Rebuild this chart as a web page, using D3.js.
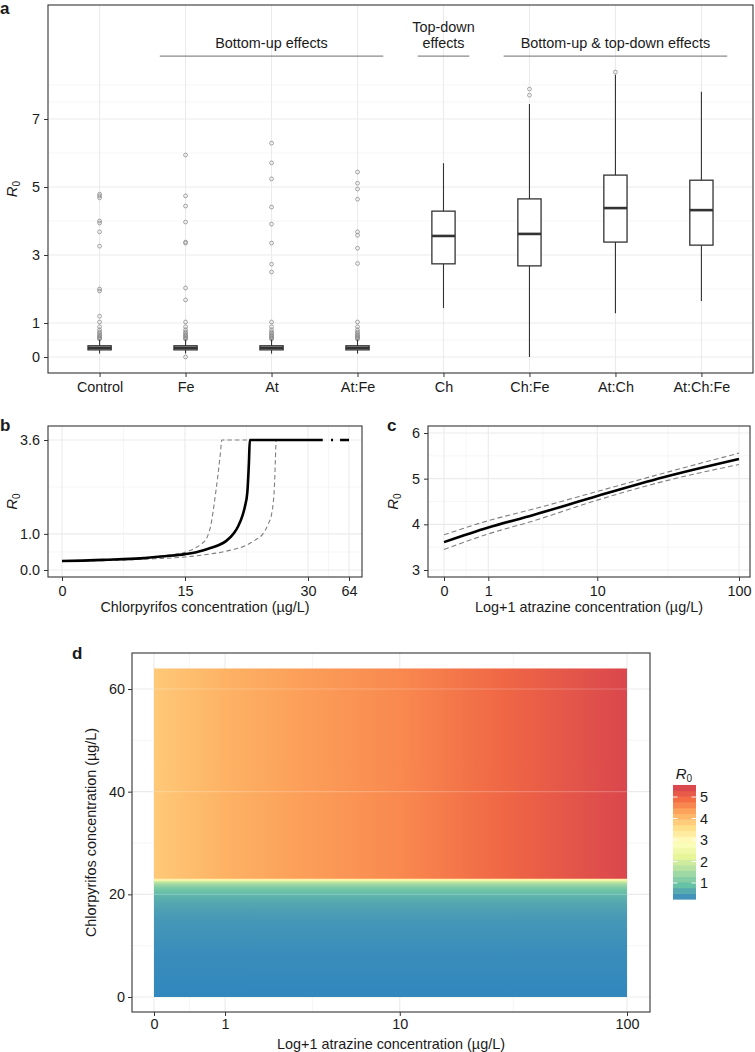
<!DOCTYPE html>
<html><head><meta charset="utf-8">
<script src="https://cdn.jsdelivr.net/npm/d3@7"></script>
<style>
body{margin:0;background:#fff;}
text{font-family:"Liberation Sans",Arial,Helvetica,sans-serif;fill:#1a1a1a;}
</style></head>
<body>
<script>
// ---------------- DATA ----------------
// Panel a: box plots
const categories = ["Control","Fe","At","At:Fe","Ch","Ch:Fe","At:Ch","At:Ch:Fe"];
const boxLow    = [0.10, 0.10, 0.10, 0.10, 1.44, 0.00, 1.29, 1.65];
const boxQ1     = [0.21, 0.21, 0.21, 0.21, 2.74, 2.68, 3.38, 3.29];
const boxMedian = [0.27, 0.27, 0.27, 0.27, 3.56, 3.62, 4.38, 4.32];
const boxQ3     = [0.33, 0.33, 0.33, 0.33, 4.29, 4.65, 5.35, 5.20];
const boxHigh   = [0.51, 0.51, 0.51, 0.51, 5.70, 7.44, 8.30, 7.80];
const outliersControl = [4.79,4.74,4.68,4.00,3.94,3.68,3.26,2.00,1.94,1.20,1.03,0.89,0.80,0.74,0.70,0.66,0.63,0.60,0.57,0.55,0.53];
const outliersFe      = [5.94,4.74,4.44,3.97,3.38,3.35,2.03,1.68,1.03,0.89,0.80,0.74,0.70,0.66,0.63,0.60,0.57,0.55,0.53,0.00];
const outliersAt      = [6.29,5.71,5.24,4.41,3.91,3.35,2.73,2.50,1.03,0.89,0.80,0.74,0.70,0.66,0.63,0.60,0.57,0.55,0.53];
const outliersAtFe    = [5.44,5.11,4.94,4.64,3.68,3.58,3.20,2.75,1.03,0.89,0.80,0.74,0.70,0.66,0.63,0.60,0.57,0.55,0.53];
const outliersCh      = [];
const outliersChFe    = [7.88,7.70];
const outliersAtCh    = [8.38];
const outliersAtChFe  = [];
const outliers = [outliersControl,outliersFe,outliersAt,outliersAtFe,outliersCh,outliersChFe,outliersAtCh,outliersAtChFe];
const aYTicks = [0,1,3,5,7];
const groupLines  = [["Bottom-up effects"],["Top-down","effects"],["Bottom-up & top-down effects"]];
const groupStart  = ["Fe","Ch","Ch:Fe"];
const groupEnd    = ["At:Fe","Ch","At:Ch:Fe"];
const groupLineY  = 8.85;

// Panel b: R0 vs chlorpyrifos (64 shown at axis position 35)
const chlorX     = [0,2.5,5,7.5,10,12.5,15,16.5,18,19,20,21,21.5,22,22.3,22.6,22.8,22.9,31.8];
const chlorR0    = [0.25,0.26,0.28,0.30,0.33,0.38,0.44,0.50,0.60,0.68,0.80,1.03,1.22,1.50,1.75,2.15,3.00,3.60,3.60];
const chlorUpX   = [0,5,10,12.5,15,16,17,17.7,18.2,18.6,19,19.3,19.5,22.9];
const chlorUp    = [0.25,0.28,0.34,0.40,0.49,0.58,0.72,0.91,1.30,1.90,2.60,3.20,3.60,3.60];
const chlorLoX   = [0,5,10,15,17,20,22.5,23.5,24.5,25.1,25.6,25.9,26.0,26.1];
const chlorLo    = [0.24,0.26,0.30,0.36,0.41,0.52,0.69,0.82,1.00,1.25,1.60,2.30,2.90,3.60];
const chlorBreak = [31.8,35];
const bXTicks  = [0,15,30,35];
const bXLabels = ["0","15","30","64"];
const bYTicks  = [0,1,3.6];
const bYLabels = ["0.0","1.0","3.6"];

// Panel c: R0 vs atrazine
const atrX   = [0,1,3,10,30,100];
const atrR0  = [3.61,3.93,4.20,4.62,5.03,5.43];
const atrUp  = [3.77,4.08,4.33,4.72,5.12,5.56];
const atrLo  = [3.45,3.79,4.07,4.53,4.94,5.31];
const atrTicks = [0,1,10,100];
const cYTicks = [3,4,5,6];

const heatAtrR0 = [3.87,4.18,4.38,4.62,5.00,5.45];
const heatChlorMax = 64;
const dYTicks = [0,20,40,60];
const legendTicks = [1,2,3,4,5];
const r0Min = 0.25, r0Max = 5.56;

const spectral = ["#3288bd","#66c2a5","#abdda4","#e6f598","#ffffbf","#fee08b","#fdae61","#f46d43","#d53e4f"];

// ---------------- SETUP ----------------
const svg = d3.select("body").append("svg").attr("width",755).attr("height",1052);
const GRID = "#ebebeb", BORDER = "#333333";
const FS = 14.4;

function grid(g, box, xMaj, xMin, yMaj, yMin, xs, ys){
  const gg = g.append("g");
  gg.selectAll(".ymin").data(yMin).join("line").attr("x1",box.l).attr("x2",box.r)
    .attr("y1",d=>ys(d)).attr("y2",d=>ys(d)).attr("stroke","#f0f0f0").attr("stroke-width",0.6);
  gg.selectAll(".xmin").data(xMin).join("line").attr("y1",box.t).attr("y2",box.b)
    .attr("x1",d=>xs(d)).attr("x2",d=>xs(d)).attr("stroke","#f0f0f0").attr("stroke-width",0.6);
  gg.selectAll(".ymaj").data(yMaj).join("line").attr("x1",box.l).attr("x2",box.r)
    .attr("y1",d=>ys(d)).attr("y2",d=>ys(d)).attr("stroke",GRID).attr("stroke-width",1.1);
  gg.selectAll(".xmaj").data(xMaj).join("line").attr("y1",box.t).attr("y2",box.b)
    .attr("x1",d=>xs(d)).attr("x2",d=>xs(d)).attr("stroke",GRID).attr("stroke-width",1.1);
}
function frame(g, box){
  g.append("rect").attr("x",box.l).attr("y",box.t).attr("width",box.r-box.l).attr("height",box.b-box.t)
    .attr("fill","none").attr("stroke",BORDER).attr("stroke-width",1.1);
}
function styleAxis(sel){
  sel.select(".domain").remove();
  sel.selectAll(".tick line").attr("stroke",BORDER).attr("stroke-width",1);
  sel.selectAll(".tick text").attr("font-size",FS).attr("fill","#1a1a1a")
     .attr("font-family","Liberation Sans, Arial, sans-serif");
  sel.attr("font-family",null).attr("font-size",null);
}
function r0Title(g, x, y, rotate){
  const t = g.append("text").attr("transform",`translate(${x},${y})` + (rotate?" rotate(-90)":""))
    .attr("text-anchor","middle").attr("font-size",FS+0.5);
  t.append("tspan").attr("font-style","italic").text("R");
  t.append("tspan").attr("font-size",10).attr("dy",3).text("0");
  return t;
}
function panelLetter(x,y,s){
  svg.append("text").attr("x",x).attr("y",y).attr("font-size",17).attr("font-weight","bold").attr("fill","#000").text(s);
}
const mid = (a,b)=>Math.sqrt((a+1)*(b+1))-1; // midpoint in log(x+1) space

// ---------------- PANEL A ----------------
{
  const box = {l:48, r:753, t:5, b:373};
  const x = d3.scalePoint().domain(categories).range([box.l,box.r]).padding(0.6);
  const y = d3.scaleLinear().domain([0,7]).range([357,119]);
  const g = svg.append("g");
  grid(g, box, categories, [], aYTicks, [0.5,2,4,6,7.5,8], x, y);
  const bw = x.step()*0.27;
  categories.forEach((c,i)=>{
    const cx = x(c);
    g.selectAll(null).data(outliers[i]).join("circle").attr("cx",cx).attr("cy",d=>y(d)).attr("r",1.9)
      .attr("fill","none").attr("stroke","#8c8c8c").attr("stroke-width",0.8);
    g.append("line").attr("x1",cx).attr("x2",cx).attr("y1",y(boxLow[i])).attr("y2",y(boxQ1[i])).attr("stroke",BORDER).attr("stroke-width",1.1);
    g.append("line").attr("x1",cx).attr("x2",cx).attr("y1",y(boxQ3[i])).attr("y2",y(boxHigh[i])).attr("stroke",BORDER).attr("stroke-width",1.1);
    g.append("rect").attr("x",cx-bw/2).attr("width",bw).attr("y",y(boxQ3[i])).attr("height",y(boxQ1[i])-y(boxQ3[i]))
      .attr("fill","#fff").attr("stroke",BORDER).attr("stroke-width",1.3);
    g.append("line").attr("x1",cx-bw/2).attr("x2",cx+bw/2).attr("y1",y(boxMedian[i])).attr("y2",y(boxMedian[i]))
      .attr("stroke",BORDER).attr("stroke-width",2.6);
  });
  groupLines.forEach((lines,i)=>{
    const x1 = x(groupStart[i]) - 0.3*x.step(), x2 = x(groupEnd[i]) + 0.3*x.step();
    g.append("line").attr("x1",x1).attr("x2",x2).attr("y1",y(groupLineY)).attr("y2",y(groupLineY))
      .attr("stroke","#8a8a8a").attr("stroke-width",1.2);
    const t = g.append("text").attr("x",(x1+x2)/2).attr("text-anchor","middle").attr("font-size",FS);
    lines.forEach((s,k)=>{
      t.append("tspan").attr("x",(x1+x2)/2).attr("y", y(groupLineY) - 8 - (lines.length-1-k)*16).text(s);
    });
  });
  frame(g, box);
  g.append("g").attr("transform",`translate(0,${box.b})`)
    .call(d3.axisBottom(x).tickSize(4).tickPadding(5)).call(styleAxis);
  g.append("g").attr("transform",`translate(${box.l},0)`)
    .call(d3.axisLeft(y).tickValues(aYTicks).tickFormat(d3.format("d")).tickSize(4).tickPadding(4)).call(styleAxis);
  r0Title(g, 17, (box.t+box.b)/2, true);
  panelLetter(0,14,"a");
}

// ---------------- PANEL B ----------------
{
  const box = {l:48, r:362, t:426, b:577};
  const x = d3.scaleLinear().domain([0,35]).range([62,349]);
  const y = d3.scaleLinear().domain([0,3.6]).range([570,440]);
  const g = svg.append("g");
  grid(g, box, bXTicks, [7.5,22.5,32.5], bYTicks, [0.5,2.3], x, y);
  const line = d3.line().x(d=>x(d[0])).y(d=>y(d[1])).curve(d3.curveMonotoneX);
  g.append("path").attr("d",line(d3.zip(chlorUpX,chlorUp))).attr("fill","none").attr("stroke","#7f7f7f")
    .attr("stroke-width",1.1).attr("stroke-dasharray","4.5,3");
  g.append("path").attr("d",line(d3.zip(chlorLoX,chlorLo))).attr("fill","none").attr("stroke","#7f7f7f")
    .attr("stroke-width",1.1).attr("stroke-dasharray","4.5,3");
  g.append("path").attr("d",line(d3.zip(chlorX,chlorR0))).attr("fill","none").attr("stroke","#000").attr("stroke-width",2.6);
  g.append("path").attr("d",d3.line().x(d=>x(d)).y(()=>y(3.6))(chlorBreak)).attr("fill","none").attr("stroke","#000")
    .attr("stroke-width",2.6).attr("stroke-dasharray","0,8.3,2,7,9");
  frame(g, box);
  g.append("g").attr("transform",`translate(0,${box.b})`)
    .call(d3.axisBottom(x).tickValues(bXTicks).tickFormat((d,i)=>bXLabels[i]).tickSize(4).tickPadding(5)).call(styleAxis);
  g.append("g").attr("transform",`translate(${box.l},0)`)
    .call(d3.axisLeft(y).tickValues(bYTicks).tickFormat((d,i)=>bYLabels[i]).tickSize(4).tickPadding(4)).call(styleAxis);
  r0Title(g, 17, (box.t+box.b)/2, true);
  g.append("text").attr("x",(box.l+box.r)/2).attr("y",612).attr("text-anchor","middle").attr("font-size",FS)
    .text("Chlorpyrifos concentration (µg/L)");
  panelLetter(0,431,"b");
}

// ---------------- PANEL C ----------------
{
  const box = {l:428, r:750, t:426, b:577};
  const x = d3.scaleSymlog().constant(1).domain([0,100]).range([444,739]);
  const y = d3.scaleLinear().domain([3,6]).range([570,433]);
  const g = svg.append("g");
  grid(g, box, atrTicks, [mid(0,1),mid(1,10),mid(10,100)], cYTicks, [3.5,4.5,5.5], x, y);
  const line = d3.line().x((d,i)=>x(atrX[i])).y(d=>y(d)).curve(d3.curveMonotoneX);
  g.append("path").attr("d",line(atrUp)).attr("fill","none").attr("stroke","#7f7f7f").attr("stroke-width",1.1).attr("stroke-dasharray","5,3");
  g.append("path").attr("d",line(atrLo)).attr("fill","none").attr("stroke","#7f7f7f").attr("stroke-width",1.1).attr("stroke-dasharray","5,3");
  g.append("path").attr("d",line(atrR0)).attr("fill","none").attr("stroke","#000").attr("stroke-width",2.6);
  frame(g, box);
  g.append("g").attr("transform",`translate(0,${box.b})`)
    .call(d3.axisBottom(x).tickValues(atrTicks).tickFormat(d3.format("d")).tickSize(4).tickPadding(5)).call(styleAxis);
  g.append("g").attr("transform",`translate(${box.l},0)`)
    .call(d3.axisLeft(y).tickValues(cYTicks).tickFormat(d3.format("d")).tickSize(4).tickPadding(4)).call(styleAxis);
  r0Title(g, 398, (box.t+box.b)/2, true);
  g.append("text").attr("x",(box.l+box.r)/2).attr("y",612).attr("text-anchor","middle").attr("font-size",FS)
    .text("Log+1 atrazine concentration (µg/L)");
  panelLetter(387,431,"c");
}

// ---------------- PANEL D ----------------
{
  const box = {l:132, r:650, t:653, b:1012};
  const x = d3.scaleSymlog().constant(1).domain([0,100]).range([154,627]);
  const y = d3.scaleLinear().domain([0,60]).range([997,689]);
  const color = d3.scaleLinear().domain(d3.range(9).map(i=>r0Min+i*(r0Max-r0Min)/8))
    .range(spectral).interpolate(d3.interpolateLab);
  const g = svg.append("g");
  grid(g, box, atrTicks, [mid(0,1),mid(1,10),mid(10,100)], dYTicks, [10,30,50], x, y);
  const defs = svg.append("defs");
  const threshold = chlorX[chlorR0.indexOf(3.6)];
  const lowIdx = chlorX.map((d,i)=>i).filter(i=>chlorX[i]<=threshold);
  const gv = defs.append("linearGradient").attr("id","gv").attr("gradientUnits","userSpaceOnUse")
    .attr("x1",0).attr("x2",0).attr("y1",y(0)).attr("y2",y(threshold));
  gv.selectAll("stop").data(lowIdx).join("stop")
    .attr("offset",i=>(y(0)-y(chlorX[i]))/(y(0)-y(threshold)))
    .attr("stop-color",i=>color(chlorR0[i]));
  const gh = defs.append("linearGradient").attr("id","gh").attr("gradientUnits","userSpaceOnUse")
    .attr("x1",x(0)).attr("x2",x(100)).attr("y1",0).attr("y2",0);
  gh.selectAll("stop").data(atrX).join("stop")
    .attr("offset",d=>(x(d)-x(0))/(x(100)-x(0)))
    .attr("stop-color",(d,i)=>color(heatAtrR0[i]));
  g.append("rect").attr("x",x(0)).attr("width",x(100)-x(0)).attr("y",y(threshold)).attr("height",y(0)-y(threshold)).attr("fill","url(#gv)");
  g.append("rect").attr("x",x(0)).attr("width",x(100)-x(0)).attr("y",y(heatChlorMax)).attr("height",y(threshold)-y(heatChlorMax)).attr("fill","url(#gh)");
  g.append("line").attr("x1",x(0)).attr("x2",x(100)).attr("y1",y(threshold)).attr("y2",y(threshold))
    .attr("stroke",color(3.2)).attr("stroke-width",1.2);
  g.selectAll(".ov").data(dYTicks.filter(d=>d>0)).join("line").attr("x1",x(0)).attr("x2",x(100))
    .attr("y1",d=>y(d)).attr("y2",d=>y(d)).attr("stroke","#fff").attr("stroke-opacity",0.22).attr("stroke-width",1.1);
  frame(g, box);
  g.append("g").attr("transform",`translate(0,${box.b})`)
    .call(d3.axisBottom(x).tickValues(atrTicks).tickFormat(d3.format("d")).tickSize(4).tickPadding(3)).call(styleAxis);
  g.append("g").attr("transform",`translate(${box.l},0)`)
    .call(d3.axisLeft(y).tickValues(dYTicks).tickFormat(d3.format("d")).tickSize(4).tickPadding(3)).call(styleAxis);
  g.append("text").attr("transform",`translate(96,${(box.t+box.b)/2}) rotate(-90)`).attr("text-anchor","middle").attr("font-size",FS)
    .text("Chlorpyrifos concentration (µg/L)");
  g.append("text").attr("x",(box.l+box.r)/2).attr("y",1049).attr("text-anchor","middle").attr("font-size",FS)
    .text("Log+1 atrazine concentration (µg/L)");
  panelLetter(72,659,"d");

  // legend
  const ly = d3.scaleLinear().domain([1,5]).range([883,797]);
  const lx0 = 673, lw = 23;
  const nb = 20;
  const bands = d3.range(nb).map(i=>[r0Min+i*(r0Max-r0Min)/nb, r0Min+(i+1)*(r0Max-r0Min)/nb]);
  const lg = svg.append("g");
  lg.selectAll("rect").data(bands).join("rect").attr("x",lx0).attr("width",lw)
    .attr("y",d=>ly(d[1])).attr("height",d=>ly(d[0])-ly(d[1])+0.5).attr("fill",d=>color((d[0]+d[1])/2));
  lg.selectAll(".tl").data(legendTicks).join("line").attr("x1",lx0).attr("x2",lx0+4.5)
    .attr("y1",d=>ly(d)).attr("y2",d=>ly(d)).attr("stroke","#fff").attr("stroke-width",0.9);
  lg.selectAll(".tr").data(legendTicks).join("line").attr("x1",lx0+lw-4.5).attr("x2",lx0+lw)
    .attr("y1",d=>ly(d)).attr("y2",d=>ly(d)).attr("stroke","#fff").attr("stroke-width",0.9);
  lg.selectAll("text").data(legendTicks).join("text").attr("x",lx0+lw+4).attr("y",d=>ly(d)+5)
    .attr("font-size",FS).text(d=>d);
  r0Title(lg, 684, 779, false);
}
</script>
</body></html>
